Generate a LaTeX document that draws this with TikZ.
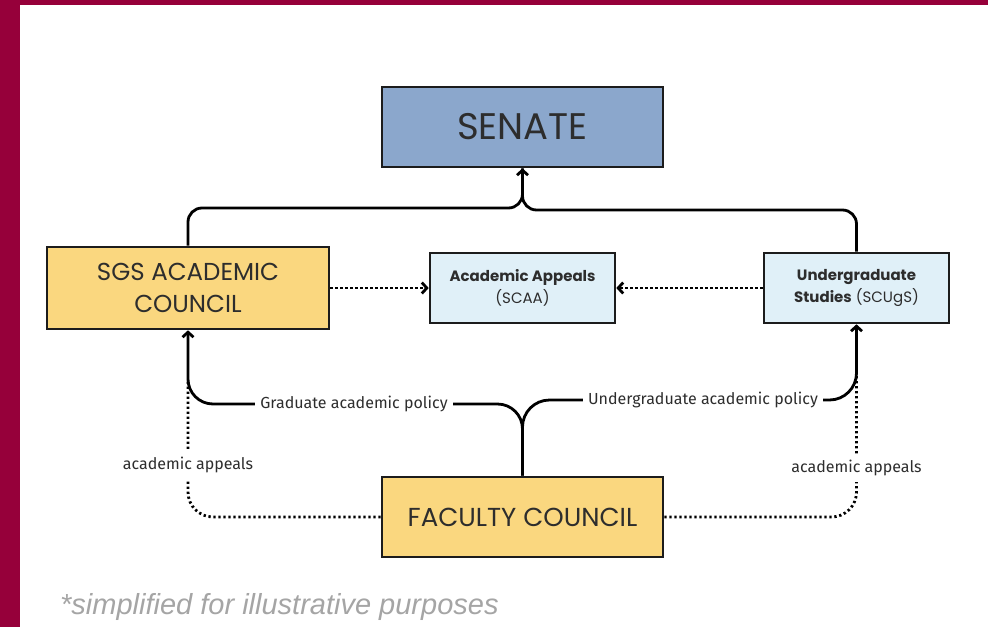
\documentclass[tikz,border=0pt]{standalone}
\usepackage{fontspec}
\setmainfont{Poppins}
\newfontfamily\notefont{Fira Sans}
\newfontfamily\footfont{Liberation Sans}
\usetikzlibrary{arrows.meta}

\definecolor{maroon}{RGB}{150,0,58}
\definecolor{senateblue}{RGB}{139,167,204}
\definecolor{councilyellow}{RGB}{250,215,127}
\definecolor{cttblue}{RGB}{224,240,248}
\definecolor{boxline}{RGB}{28,28,28}
\definecolor{boxtext}{RGB}{45,45,45}
\definecolor{footgray}{RGB}{165,165,165}

\tikzset{
  box/.style={draw=boxline, line width=2.6pt, text=boxtext, align=center, inner sep=0pt},
  bigbox/.style={box, minimum width=281pt, minimum height=80pt},
  cttbox/.style={box, fill=cttblue, minimum width=185pt, minimum height=70pt,
    font=\fontsize{15}{22}\selectfont},
  tip/.tip={Straight Barb[length=5pt,width=11pt]},
  link/.style={line width=2.8pt, draw=black},
  appeal/.style={line width=2.8pt, draw=black, dash pattern=on 2.3pt off 2.7pt},
  edgelbl/.style={fill=white, inner xsep=5pt, inner ysep=2pt, text=boxtext,
    font=\notefont\fontsize{16}{18}\selectfont}
}

\begin{document}
\begin{tikzpicture}[x=1pt,y=-1pt]
  \useasboundingbox (0,0) rectangle (988,627);
  \fill[white] (0,0) rectangle (988,627);

  % frame
  \fill[maroon] (0,0) rectangle (20,627);
  \fill[maroon] (0,0) rectangle (988,5);

  % boxes
  \node[bigbox, fill=senateblue, font=\fontsize{37}{40}\selectfont] (senate) at (522.5,127) {SENATE};
  \node[box, fill=councilyellow, minimum width=282pt, minimum height=82pt,
    font=\fontsize{24.5}{32}\selectfont] (sgs) at (188,288) {SGS ACADEMIC\\COUNCIL};
  \node[cttbox] (scaa) at (522.5,288) {\textbf{Academic Appeals}\\(SCAA)};
  \node[cttbox] (scugs) at (856.5,288) {\textbf{Undergraduate}\\\textbf{Studies} (SCUgS)};
  \node[bigbox, fill=councilyellow, font=\fontsize{26}{30}\selectfont] (faculty) at (522.5,517) {FACULTY COUNCIL};

  % appeals routes (dotted)
  \draw[appeal, rounded corners=25pt] (faculty.west) -| (188,380);
  \draw[appeal, rounded corners=25pt] (faculty.east) -| (856.5,376);
  \draw[appeal, -{tip}] (sgs.east) -- (scaa.west);
  \draw[appeal, -{tip}] (scugs.west) -- (scaa.east);

  % reporting lines to the senate
  \draw[link, rounded corners=14pt] (sgs.north) |- (522.5,208) -- (senate.south);
  \draw[link, rounded corners=14pt, -{tip}] (scugs.north) |- (522.5,210) -- (senate.south);

  % policy lines from the faculty council
  \draw[link, rounded corners=25pt, -{tip}] (faculty.north) |- (188,404) -- (sgs.south);
  \draw[link, rounded corners=27pt, -{tip}] (faculty.north) |- (856.5,400) -- (scugs.south);

  % labels
  \node[edgelbl] (gradpol) at (354,404) {Graduate academic policy};
  \node[edgelbl] (ugradpol) at (703,400) {Undergraduate academic policy};
  \node[edgelbl, inner ysep=6pt] (gradapp) at (188,465) {academic appeals};
  \node[edgelbl, inner ysep=6pt] (ugradapp) at (856.5,468) {academic appeals};

  \node[anchor=base west, inner sep=0pt, text=footgray,
    font=\footfont\itshape\fontsize{29}{32}\selectfont] (note) at (60,614)
    {*simplified for illustrative purposes};
\end{tikzpicture}
\end{document}
